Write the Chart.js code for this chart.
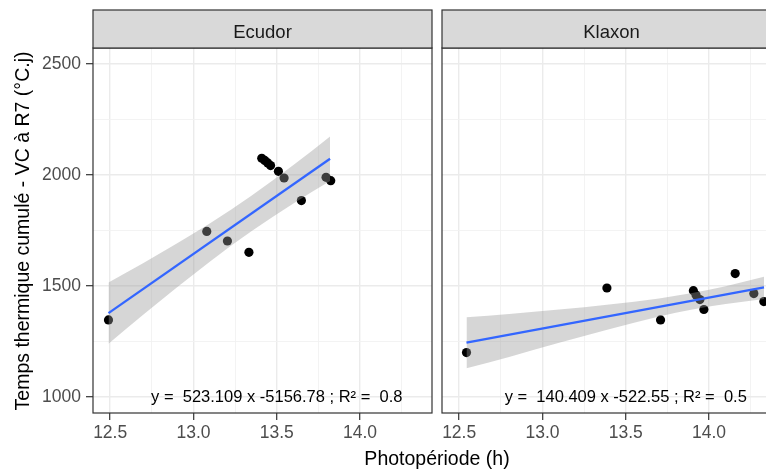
<!DOCTYPE html>
<html><head><meta charset="utf-8">
<script src="https://cdn.jsdelivr.net/npm/chart.js@4"></script>
<style>
html,body{margin:0;padding:0;background:#fff;overflow:hidden;}
#wrap{position:relative;width:766px;height:474px;overflow:hidden;background:#fff;}
canvas{position:absolute;top:0;}
</style></head><body>
<div id="wrap">
<canvas id="c1" width="766" height="474" style="left:0px"></canvas>
<canvas id="c2" width="360" height="474" style="left:436px"></canvas>
</div>
<script>
// ---- facet names and texts ----
const panelNames = ['Ecudor', 'Klaxon'];
const equations = ['y =  523.109 x -5156.78 ; R\u00B2 =  0.8', 'y =  140.409 x -522.55 ; R\u00B2 =  0.5'];
const xTitle = 'Photop\u00E9riode (h)';
const yTitle = 'Temps thermique cumul\u00E9 - VC \u00E0 R7 (\u00B0C.j)';

// ---- ticks ----
const xMajorTicks = [12.5, 13.0, 13.5, 14.0];
const xTickLabels = ['12.5', '13.0', '13.5', '14.0'];
const xMinorTicks = [12.75, 13.25, 13.75, 14.25];
const yMajorTicks = [1000, 1500, 2000, 2500];
const yTickLabels = ['1000', '1500', '2000', '2500'];
const yMinorTicks = [1250, 1750, 2250];

// ---- Ecudor ----
const ecudorPhoto = [12.49, 13.08, 13.204, 13.333, 13.41, 13.428, 13.446, 13.463, 13.51, 13.544, 13.648, 13.796, 13.824];
const ecudorTemps = [1346, 1745, 1702, 1651, 2075, 2065, 2054, 2042, 2016, 1986, 1884, 1989, 1974];
const ecudorFitX = [12.49, 13.82];
const ecudorFitY = [1377, 2073];
const ecudorBandX = [12.49, 12.7, 12.9, 13.1, 13.35, 13.6, 13.82];
const ecudorBandHigh = [1515, 1603, 1691, 1782, 1907, 2044, 2173];
const ecudorBandLow = [1239, 1370, 1492, 1610, 1747, 1871, 1972];

// ---- Klaxon ----
const klaxonPhoto = [12.544, 13.387, 13.709, 13.906, 13.922, 13.945, 13.969, 14.157, 14.269, 14.329];
const klaxonTemps = [1199, 1490, 1346, 1478, 1458, 1438, 1393, 1555, 1465, 1429];
const klaxonFitX = [12.544, 14.33];
const klaxonFitY = [1244, 1493];
const klaxonBandX = [12.544, 12.8, 13.1, 13.4, 13.7, 13.9, 14.1, 14.33];
const klaxonBandHigh = [1358, 1373, 1393, 1416, 1443, 1467, 1498, 1541];
const klaxonBandLow = [1128, 1179, 1243, 1304, 1361, 1393, 1418, 1441];

// ---- axis ranges ----
const xMin = 12.397, xMax = 14.432;
const yMin = 926.5, yMax = 2572;
const annX = 13.5, annY = 1000;

const FONT = "'Liberation Sans', Arial, Helvetica, sans-serif";
const zip = (xs, ys) => xs.map((x, i) => ({x: x, y: ys[i]}));
const isIn = (arr, v) => arr.some(a => Math.abs(a - v) < 1e-6);

function decorPlugin(idx, drawTitles) {
  return {
    id: 'decor' + idx,
    afterDatasetsDraw(chart) {
      const ctx = chart.ctx, a = chart.chartArea;
      const xs = chart.scales.x, ys = chart.scales.y;
      ctx.save();
      // annotation
      ctx.fillStyle = '#000';
      ctx.font = '16.5px ' + FONT;
      ctx.textAlign = 'center';
      ctx.textBaseline = 'alphabetic';
      ctx.fillText(equations[idx], xs.getPixelForValue(annX), ys.getPixelForValue(annY) + 5.5);
      // panel border
      ctx.strokeStyle = '#333333';
      ctx.lineWidth = 1.2;
      ctx.strokeRect(a.left, a.top, a.right - a.left, a.bottom - a.top);
      // strip
      const sTop = 10;
      ctx.fillStyle = '#d9d9d9';
      ctx.fillRect(a.left, sTop, a.right - a.left, a.top - sTop);
      ctx.strokeRect(a.left, sTop, a.right - a.left, a.top - sTop);
      ctx.fillStyle = '#1a1a1a';
      ctx.font = '18.5px ' + FONT;
      ctx.fillText(panelNames[idx], (a.left + a.right) / 2, 37.5);
      if (drawTitles) {
        ctx.font = '19.5px ' + FONT;
        ctx.fillStyle = '#000';
        ctx.fillText(xTitle, 437, 465);
        ctx.translate(29, 231);
        ctx.rotate(-Math.PI / 2);
        ctx.fillText(yTitle, 0, 0);
      }
      ctx.restore();
    }
  };
}

function makePanel(canvasId, idx, photo, temps, fitX, fitY, bandX, bandHigh, bandLow, first) {
  const xAll = xMajorTicks.concat(xMinorTicks).sort((a, b) => a - b);
  const yAll = yMajorTicks.concat(yMinorTicks).sort((a, b) => a - b);
  return new Chart(document.getElementById(canvasId), {
    type: 'line',
    data: {
      datasets: [
        { data: zip(photo, temps), showLine: false, pointRadius: 4.6, pointHoverRadius: 4.6,
          pointBackgroundColor: '#000', pointBorderWidth: 0, pointBorderColor: '#000', order: 3 },
        { data: zip(bandX, bandHigh), fill: '+1', backgroundColor: 'rgba(153,153,153,0.4)',
          borderColor: 'transparent', borderWidth: 0, pointRadius: 0, cubicInterpolationMode: 'monotone', order: 2 },
        { data: zip(bandX, bandLow), fill: false, borderColor: 'transparent', borderWidth: 0,
          pointRadius: 0, cubicInterpolationMode: 'monotone', order: 2 },
        { data: zip(fitX, fitY), fill: false, borderColor: '#3366FF', borderWidth: 2.3,
          pointRadius: 0, order: 1 }
      ]
    },
    options: {
      responsive: false, animation: false, events: [],
      layout: { padding: first ? { top: 48, right: 334, left: 0, bottom: 0 } : { top: 48, right: 15, left: 6, bottom: 0 } },
      plugins: { legend: { display: false }, tooltip: { enabled: false }, title: { display: false } },
      scales: {
        x: {
          type: 'linear', min: xMin, max: xMax,
          afterBuildTicks: s => { s.ticks = xAll.map(v => ({ value: v })); },
          afterFit: s => { s.height = 61; },
          border: { display: false },
          grid: {
            color: c => isIn(xMajorTicks, c.tick.value) ? '#ebebeb' : '#f2f2f2',
            lineWidth: c => isIn(xMajorTicks, c.tick.value) ? 1.4 : 0.9,
            tickLength: 7,
            tickColor: c => isIn(xMajorTicks, c.tick.value) ? '#333333' : 'rgba(0,0,0,0)',
            tickWidth: 1.2
          },
          ticks: {
            autoSkip: false, maxRotation: 0, minRotation: 0, padding: 3, color: '#4d4d4d',
            font: { family: FONT, size: 17.5 },
            callback: v => { const i = xMajorTicks.findIndex(m => Math.abs(m - v) < 1e-6); return i >= 0 ? xTickLabels[i] : ''; }
          }
        },
        y: {
          type: 'linear', min: yMin, max: yMax,
          afterBuildTicks: s => { s.ticks = yAll.map(v => ({ value: v })); },
          afterFit: s => { s.width = first ? 93 : 0; },
          border: { display: false },
          grid: {
            color: c => isIn(yMajorTicks, c.tick.value) ? '#ebebeb' : '#f2f2f2',
            lineWidth: c => isIn(yMajorTicks, c.tick.value) ? 1.4 : 0.9,
            drawTicks: first, tickLength: 7,
            tickColor: c => isIn(yMajorTicks, c.tick.value) ? '#333333' : 'rgba(0,0,0,0)',
            tickWidth: 1.2
          },
          ticks: {
            display: first, autoSkip: false, padding: 5, color: '#4d4d4d',
            font: { family: FONT, size: 17.5 },
            callback: v => { const i = yMajorTicks.findIndex(m => Math.abs(m - v) < 1e-6); return i >= 0 ? yTickLabels[i] : ''; }
          }
        }
      }
    },
    plugins: [decorPlugin(idx, first)]
  });
}

makePanel('c1', 0, ecudorPhoto, ecudorTemps, ecudorFitX, ecudorFitY, ecudorBandX, ecudorBandHigh, ecudorBandLow, true);
makePanel('c2', 1, klaxonPhoto, klaxonTemps, klaxonFitX, klaxonFitY, klaxonBandX, klaxonBandHigh, klaxonBandLow, false);
</script>
</body></html>
